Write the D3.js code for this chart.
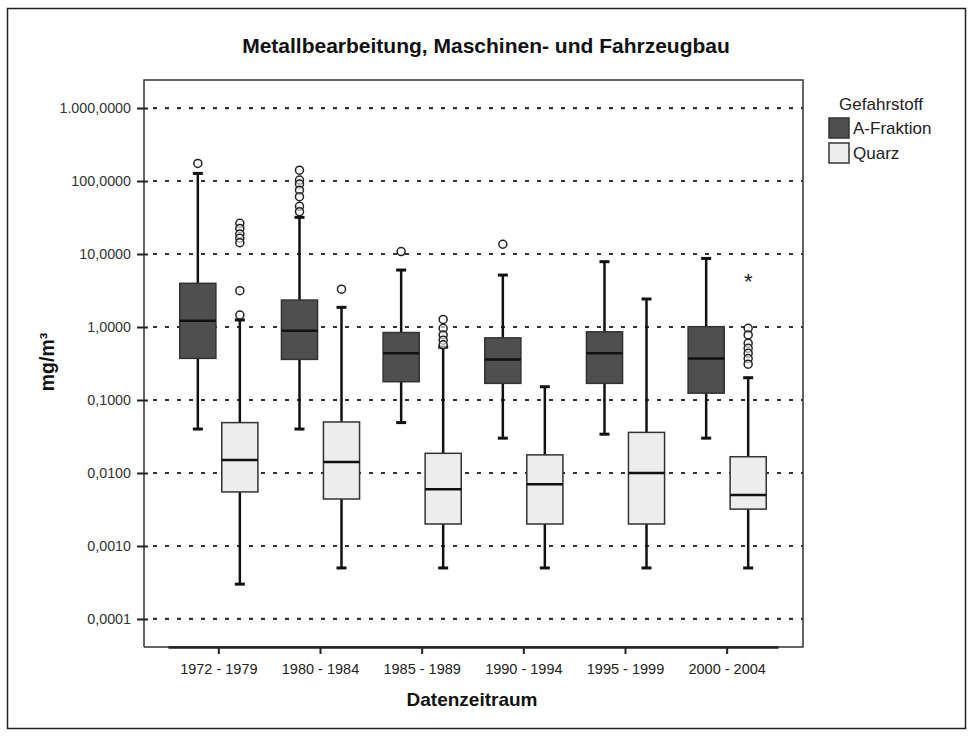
<!DOCTYPE html>
<html>
<head>
<meta charset="utf-8">
<script src="https://cdn.jsdelivr.net/npm/d3@7"></script>
<style>
  html, body { margin: 0; padding: 0; background: #fff; }
  svg { display: block; font-family: "Liberation Sans", Arial, sans-serif; }
</style>
</head>
<body>
<svg id="chart" width="971" height="736"></svg>
<script>
// ---------- data ----------
const categories = ["1972 - 1979", "1980 - 1984", "1985 - 1989", "1990 - 1994", "1995 - 1999", "2000 - 2004"];
const seriesNames = ["A-Fraktion", "Quarz"];

// A-Fraktion
const aLow      = [0.040, 0.040, 0.049, 0.030, 0.034, 0.030];
const aQ1       = [0.372, 0.360, 0.178, 0.169, 0.169, 0.124];
const aMedian   = [1.22, 0.89, 0.436, 0.36, 0.436, 0.37];
const aQ3       = [3.97, 2.34, 0.84, 0.71, 0.86, 1.01];
const aHigh     = [127, 31.8, 6.03, 5.15, 7.85, 8.7];
const aOutliers = [[174], [141, 103, 91, 75, 61, 45, 38], [10.8], [13.6], [], []];
const aExtremes = [[], [], [], [], [], []];

// Quarz
const qLow      = [0.0003, 0.0005, 0.0005, 0.0005, 0.0005, 0.0005];
const qQ1       = [0.0055, 0.0044, 0.0020, 0.0020, 0.0020, 0.0032];
const qMedian   = [0.0151, 0.0141, 0.0060, 0.0070, 0.0100, 0.0050];
const qQ3       = [0.049, 0.050, 0.0186, 0.0177, 0.036, 0.0167];
const qHigh     = [1.25, 1.86, 0.53, 0.152, 2.42, 0.202];
const qOutliers = [[26.3, 22.4, 18.8, 16.4, 14.3, 3.14, 1.46], [3.3], [1.27, 0.96, 0.78, 0.66, 0.57], [], [], [0.96, 0.78, 0.6, 0.51, 0.436, 0.37, 0.31]];
const qExtremes = [[], [], [], [], [], [4.4]];

const yTickValues = [1000, 100, 10, 1, 0.1, 0.01, 0.001, 0.0001];
const yTickLabels = ["1.000,0000", "100,0000", "10,0000", "1,0000", "0,1000", "0,0100", "0,0010", "0,0001"];

const seriesFill = ["#4f4f4f", "#ededed"];

// ---------- build ----------
const series = [
  { name: seriesNames[0], low: aLow, q1: aQ1, med: aMedian, q3: aQ3, high: aHigh, out: aOutliers, ext: aExtremes },
  { name: seriesNames[1], low: qLow, q1: qQ1, med: qMedian, q3: qQ3, high: qHigh, out: qOutliers, ext: qExtremes }
];

const svg = d3.select("#chart");
const frame = { left: 144, top: 80, right: 803, bottom: 647 };

// outer border
svg.append("rect").attr("x", 7.5).attr("y", 8.5).attr("width", 958).attr("height", 720)
  .attr("fill", "none").attr("stroke", "#222").attr("stroke-width", 1.5);

const y = d3.scaleLog()
  .domain([Math.pow(10, -4.384), Math.pow(10, 3.384)])
  .range([frame.bottom, frame.top]);

const x = d3.scaleBand().domain(categories).range([168, 778]);
const xs = d3.scaleBand().domain(seriesNames).range([0, x.bandwidth()])
  .paddingInner(0.14).paddingOuter(0.28);

// title
svg.append("text").attr("x", 486).attr("y", 53).attr("text-anchor", "middle")
  .attr("font-weight", "bold").attr("font-size", 21).attr("fill", "#111")
  .text("Metallbearbeitung, Maschinen- und Fahrzeugbau");

// grid lines
svg.append("g").selectAll("line").data(yTickValues).join("line")
  .attr("x1", 153).attr("x2", frame.right)
  .attr("y1", d => y(d)).attr("y2", d => y(d))
  .attr("stroke", "#333").attr("stroke-width", 2.2).attr("stroke-dasharray", "4,8");

// frame
svg.append("path")
  .attr("d", `M${frame.left},${frame.bottom}V${frame.top}H${frame.right}V${frame.bottom}H${frame.left}`)
  .attr("fill", "none").attr("stroke", "#333").attr("stroke-width", 1.5);

// y axis
const yAxis = d3.axisLeft(y).tickValues(yTickValues)
  .tickFormat((d, i) => yTickLabels[i]).tickSize(11).tickPadding(3);
const gy = svg.append("g").attr("transform", `translate(${frame.left + 4},0)`).call(yAxis);
gy.select(".domain").remove();
gy.selectAll(".tick line").attr("stroke", "#222").attr("stroke-width", 2);
gy.selectAll(".tick text").attr("font-size", 14.3).attr("fill", "#333").attr("dx", -3)
  .attr("font-family", "'Liberation Sans', Arial, sans-serif");

// x axis
const xAxis = d3.axisBottom(x).tickSize(7).tickPadding(10).tickSizeOuter(0);
const gx = svg.append("g").attr("transform", `translate(0,${frame.bottom})`).call(xAxis);
gx.select(".domain").attr("stroke", "#222").attr("stroke-width", 2.5);
gx.selectAll(".tick line").attr("stroke", "#222").attr("stroke-width", 2);
gx.selectAll(".tick text").attr("font-size", 14.5).attr("fill", "#222")
  .attr("font-family", "'Liberation Sans', Arial, sans-serif");

// axis titles
svg.append("text").attr("x", 472).attr("y", 706).attr("text-anchor", "middle")
  .attr("font-weight", "bold").attr("font-size", 19).attr("fill", "#111").text("Datenzeitraum");
svg.append("text").attr("transform", "translate(54,362) rotate(-90)").attr("text-anchor", "middle")
  .attr("font-weight", "bold").attr("font-size", 19.5).attr("fill", "#111").text("mg/m³");

// boxes
const capW = 10;
series.forEach((s, si) => {
  const g = svg.append("g");
  categories.forEach((c, ci) => {
    const x0 = x(c) + xs(s.name);
    const bw = xs.bandwidth();
    const cx = x0 + bw / 2;
    // whiskers
    g.append("line").attr("x1", cx).attr("x2", cx).attr("y1", y(s.q3[ci])).attr("y2", y(s.high[ci]))
      .attr("stroke", "#111").attr("stroke-width", 2.5);
    g.append("line").attr("x1", cx).attr("x2", cx).attr("y1", y(s.q1[ci])).attr("y2", y(s.low[ci]))
      .attr("stroke", "#111").attr("stroke-width", 2.5);
    [s.high[ci], s.low[ci]].forEach(v => {
      g.append("line").attr("x1", cx - capW / 2).attr("x2", cx + capW / 2).attr("y1", y(v)).attr("y2", y(v))
        .attr("stroke", "#111").attr("stroke-width", 3);
    });
    // box
    g.append("rect").attr("x", x0).attr("width", bw)
      .attr("y", y(s.q3[ci])).attr("height", y(s.q1[ci]) - y(s.q3[ci]))
      .attr("fill", seriesFill[si]).attr("stroke", "#333").attr("stroke-width", 1.5);
    // median
    g.append("line").attr("x1", x0).attr("x2", x0 + bw).attr("y1", y(s.med[ci])).attr("y2", y(s.med[ci]))
      .attr("stroke", "#111").attr("stroke-width", 2.5);
    // outliers
    g.selectAll(null).data(s.out[ci]).join("circle")
      .attr("cx", cx).attr("cy", d => y(d)).attr("r", 4)
      .attr("fill", "#fff").attr("fill-opacity", 0.6).attr("stroke", "#222").attr("stroke-width", 1.5);
    g.selectAll(null).data(s.ext[ci]).join("text")
      .attr("x", cx).attr("y", d => y(d) + 9).attr("text-anchor", "middle")
      .attr("font-size", 22).attr("fill", "#222").text("*");
  });
});

// legend
const lg = svg.append("g");
lg.append("text").attr("x", 881).attr("y", 110).attr("text-anchor", "middle")
  .attr("font-size", 17).attr("fill", "#222").text("Gefahrstoff");
seriesNames.forEach((n, i) => {
  const yy = 118 + i * 25;
  lg.append("rect").attr("x", 829).attr("y", yy).attr("width", 20).attr("height", 20)
    .attr("fill", seriesFill[i]).attr("stroke", "#333").attr("stroke-width", 1.5);
  lg.append("text").attr("x", 853).attr("y", yy + 16).attr("font-size", 17).attr("fill", "#222").text(n);
});
</script>
</body>
</html>
